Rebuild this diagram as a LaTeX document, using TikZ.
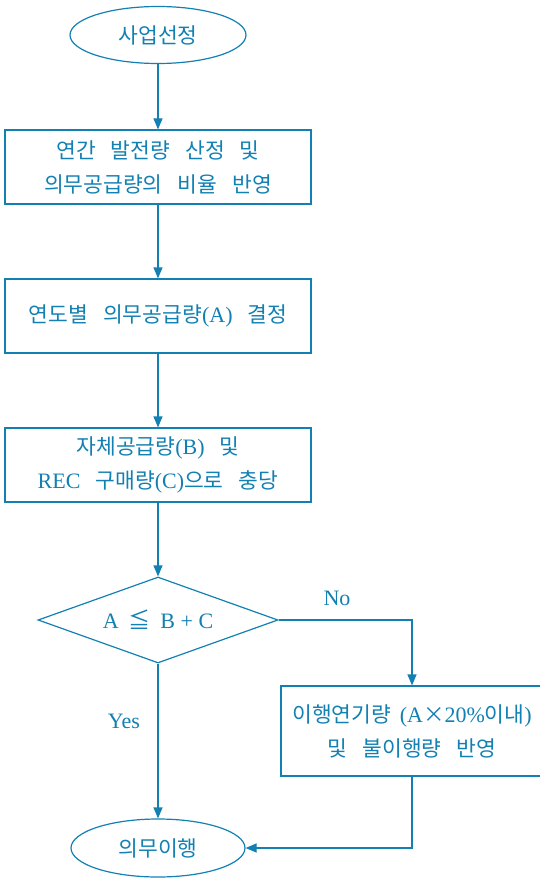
\documentclass[tikz,border=0pt]{standalone}
\usepackage{fontspec}
\setmainfont{Liberation Serif}
\newfontfamily\kr{Noto Sans CJK KR}
\usetikzlibrary{arrows.meta,shapes.geometric}
\definecolor{fc}{RGB}{18,128,178}
\tikzset{
  base/.style={draw=fc, text=fc, line width=1.2pt, inner sep=0pt, align=center,
    font=\kr\fontsize{21.5}{34}\selectfont},
  boxnode/.style={base, rectangle, minimum width=306, minimum height=74},
  termnode/.style={base, ellipse, minimum width=176, minimum height=57},
  decnode/.style={base, diamond, aspect=2.8, minimum width=240, minimum height=86},
  lbl/.style={text=fc, inner sep=0pt, font=\fontsize{22}{24}\selectfont},
  arr/.style={draw=fc, line width=1.2pt, -{Triangle[length=11pt,width=9pt]}},
  lnk/.style={draw=fc, line width=1.2pt}
}
\newcommand{\gap}{\hspace{0.7em}}
\newcommand{\lat}[1]{{\rmfamily\fontsize{22}{24}\selectfont #1}}
\begin{document}
\begin{tikzpicture}[x=1pt,y=-1pt]
\useasboundingbox (0,0) rectangle (540,880);
\clip (0,0) rectangle (540,880);
\node[termnode] (s) at (158,35) {사업선정};
\node[boxnode] (b1) at (158,167) {연간\gap 발전량\gap 산정\gap 및\\의무공급량의\gap 비율\gap 반영};
\node[boxnode] (b2) at (158,316) {연도별\gap 의무공급량\lat{(A)}\gap 결정};
\node[boxnode] (b3) at (158,465) {자체공급량\lat{(B)}\gap 및\\\lat{REC}\gap 구매량\lat{(C)}으로\gap 충당};
\node[decnode] (d) at (158,620) {\lat{A\hspace{0.45em}{\kr ≦}\hspace{0.45em}B + C}};
\node[boxnode, minimum width=262, minimum height=90] (b4) at (412,731)
  {이행연기량\hspace{0.4em}\lat{(A}×\lat{20\%}이내\lat{)}\\및\gap 불이행량\gap 반영};
\node[termnode, minimum width=174, minimum height=58] (e) at (158,848) {의무이행};
\node[lbl] (no) at (337,598) {No};
\node[lbl] (yes) at (124,721) {Yes};
\draw[arr] (s) -- (b1);
\draw[arr] (b1) -- (b2);
\draw[arr] (b2) -- (b3);
\draw[arr] (b3) -- (d);
\draw[arr] (d.east) -| (b4.north);
\draw[arr] (d.south) -- (e.north);
\draw[arr] (b4.south) |- (e.east);
\end{tikzpicture}
\end{document}
